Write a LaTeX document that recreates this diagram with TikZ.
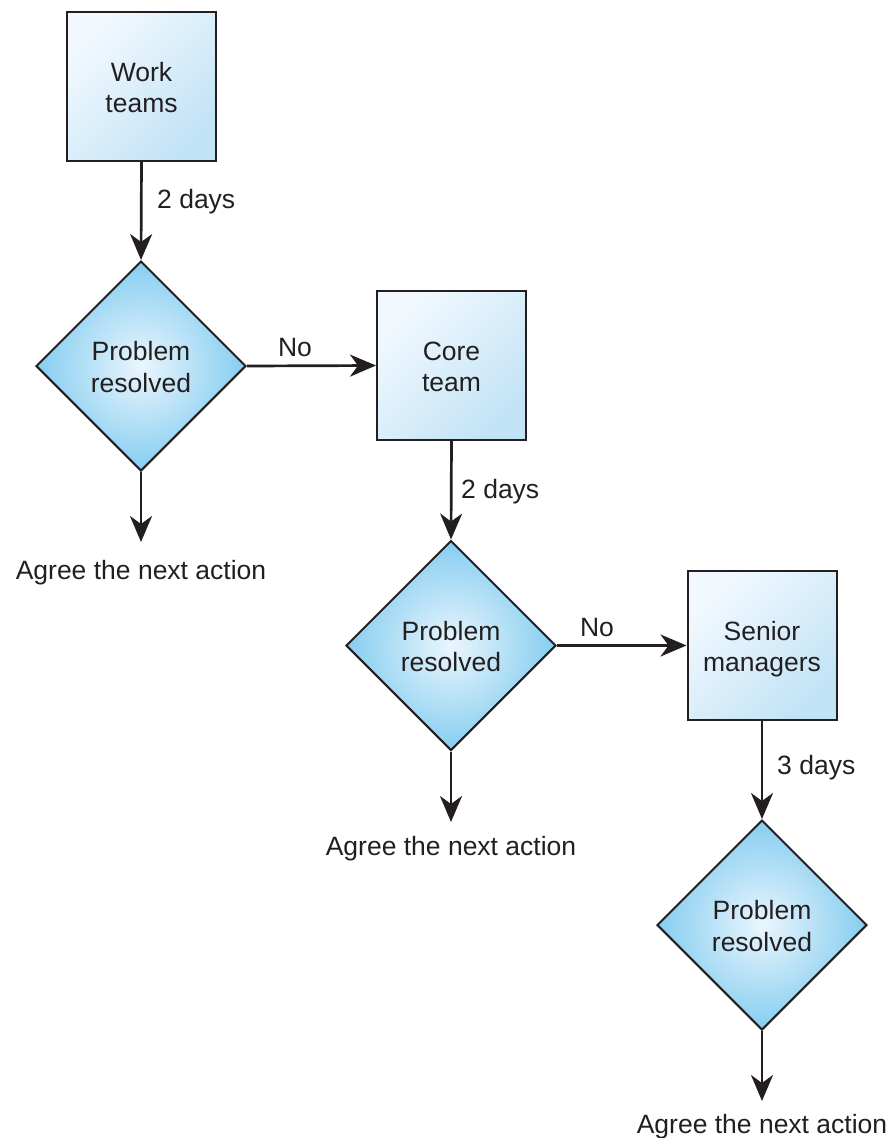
\documentclass[tikz,border=0pt]{standalone}
\usepackage{fontspec}
\setmainfont{Liberation Sans}
\usetikzlibrary{shapes.geometric,arrows.meta}
\definecolor{ink}{HTML}{231F20}
\definecolor{boxlight}{HTML}{F2F9FE}
\definecolor{boxdark}{HTML}{C2E3F6}
\definecolor{diainner}{HTML}{EAF6FD}
\definecolor{diaouter}{HTML}{86CDF0}
\newcommand{\twolines}[2]{\raisebox{-4pt}[\height][\depth]{\begin{tabular}{@{}c@{}}#1\\#2\end{tabular}}}
\tikzset{
  stepbox/.style={draw=ink, line width=2pt, minimum width=149pt, minimum height=149pt,
    inner sep=0pt, align=center, shading=axis, top color=boxlight, bottom color=boxdark,
    shading angle=45, text=ink},
  decision/.style={draw=ink, line width=2pt, diamond, aspect=1, minimum size=210pt,
    inner sep=0pt, align=center, inner color=diainner, outer color=diaouter, text=ink},
  flow/.style={draw=ink, line width=2.7pt, -{Stealth[length=26pt,width=22pt,inset=8pt]}},
  lbl/.style={text=ink, inner sep=0pt},
}
\begin{document}
\begin{tikzpicture}[x=1pt,y=-1pt,font=\fontsize{26.5}{31.5}\selectfont]
\useasboundingbox (0,0) rectangle (892,1138);
% boxes
\node[stepbox] (b1) at (141.5,86.5) {\twolines{Work}{teams}};
\node[stepbox] (b2) at (451.5,365.5) {\twolines{Core}{team}};
\node[stepbox] (b3) at (762,645.5) {\twolines{Senior}{managers}};
% decisions
\node[decision] (d1) at (141,366) {\twolines{Problem}{resolved}};
\node[decision] (d2) at (451,645.5) {\twolines{Problem}{resolved}};
\node[decision] (d3) at (762,925) {\twolines{Problem}{resolved}};
% outcome texts
\node[lbl] (a1) at (141,573) {Agree the next action};
\node[lbl] (a2) at (451,849) {Agree the next action};
\node[lbl] (a3) at (762,1127) {Agree the next action};
\coordinate (e1) at (141,542);
\coordinate (e2) at (451,822);
\coordinate (e3) at (762,1101);
% connectors
\draw[flow] (b1.south) -- (d1.north);
\draw[flow] (b2.south) -- (d2.north);
\draw[flow] (b3.south) -- (d3.north);
\draw[flow] (d1.east) -- (b2.west);
\draw[flow] (d2.east) -- (b3.west);
\draw[flow] (d1.south) -- (e1);
\draw[flow] (d2.south) -- (e2);
\draw[flow] (d3.south) -- (e3);
% labels
\node[lbl, anchor=west] (t1) at (157,202) {2 days};
\node[lbl, anchor=west] (t2) at (461,492) {2 days};
\node[lbl, anchor=west] (t3) at (777,768) {3 days};
\node[lbl] (n1) at (295,348) {No};
\node[lbl] (n2) at (597,628) {No};
\end{tikzpicture}
\end{document}
